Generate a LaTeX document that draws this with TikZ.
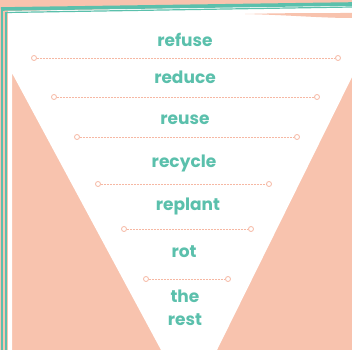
\documentclass[tikz,border=0pt]{standalone}
\usepackage{fontspec}
\setmainfont{Poppins}
\usetikzlibrary{positioning}

\definecolor{salmon}{HTML}{F8C3AE}
\definecolor{tealgreen}{HTML}{5BC0AC}
\definecolor{ringpink}{HTML}{F6B8A3}

\begin{document}
\begin{tikzpicture}[x=1pt,y=-1pt,
  word/.style={text=tealgreen,anchor=base,font=\fontsize{17}{17}\selectfont\bfseries},
  ring/.style={circle,draw=ringpink,line width=0.8pt,fill=white,inner sep=0pt,minimum size=5pt},
  rule/.style={draw=ringpink,line width=0.7pt,dash pattern=on 0.6pt off 0.9pt},
  frame/.style={draw=tealgreen,line width=2.6pt}]
  \useasboundingbox (0,0) rectangle (352,350);
  % paper and funnel
  \fill[salmon] (0,0) rectangle (352,350);
  \fill[white] (8,11) -- (352,5) -- (352,77) -- (217,350) -- (161,350)
    -- (12,73) -- (12,350) -- (8,350) -- cycle;
  \fill[salmon] (245,14) .. controls (290,15) and (320,18) .. (352,18)
    -- (352,13) .. controls (320,13) and (280,13) .. (245,14) -- cycle;
  % teal frame
  \draw[frame] (2,9) -- (2,350);
  \draw[frame] (6,12) -- (6,350);
  \draw[frame,line width=3.6pt] (1,9) -- (352,4);
  \draw[frame,line width=1.2pt] (6,12.5) -- (352,7);

  \node[word] (refuse) at (185,47) {refuse};
  \node[ring] (r1a) at (34,58) {};
  \node[ring] (r1b) at (338,58) {};
  \draw[rule] (r1a) -- (r1b);

  \node[word] (reduce) at (185,83) {reduce};
  \node[ring] (r2a) at (54,97) {};
  \node[ring] (r2b) at (317,97) {};
  \draw[rule] (r2a) -- (r2b);

  \node[word] (reuse) at (185,124) {reuse};
  \node[ring] (r3a) at (77,137) {};
  \node[ring] (r3b) at (297,137) {};
  \draw[rule] (r3a) -- (r3b);

  \node[word] (recycle) at (184,167) {recycle};
  \node[ring] (r4a) at (98,184) {};
  \node[ring] (r4b) at (269,184) {};
  \draw[rule] (r4a) -- (r4b);

  \node[word] (replant) at (188,210) {replant};
  \node[ring] (r5a) at (124,229) {};
  \node[ring] (r5b) at (251,229) {};
  \draw[rule] (r5a) -- (r5b);

  \node[word] (rot) at (184,257) {rot};
  \node[ring] (r6a) at (146,279) {};
  \node[ring] (r6b) at (228,279) {};
  \draw[rule] (r6a) -- (r6b);

  \node[word] (the) at (185,302) {the};
  \node[word] (rest) at (185,325) {rest};
\end{tikzpicture}
\end{document}
